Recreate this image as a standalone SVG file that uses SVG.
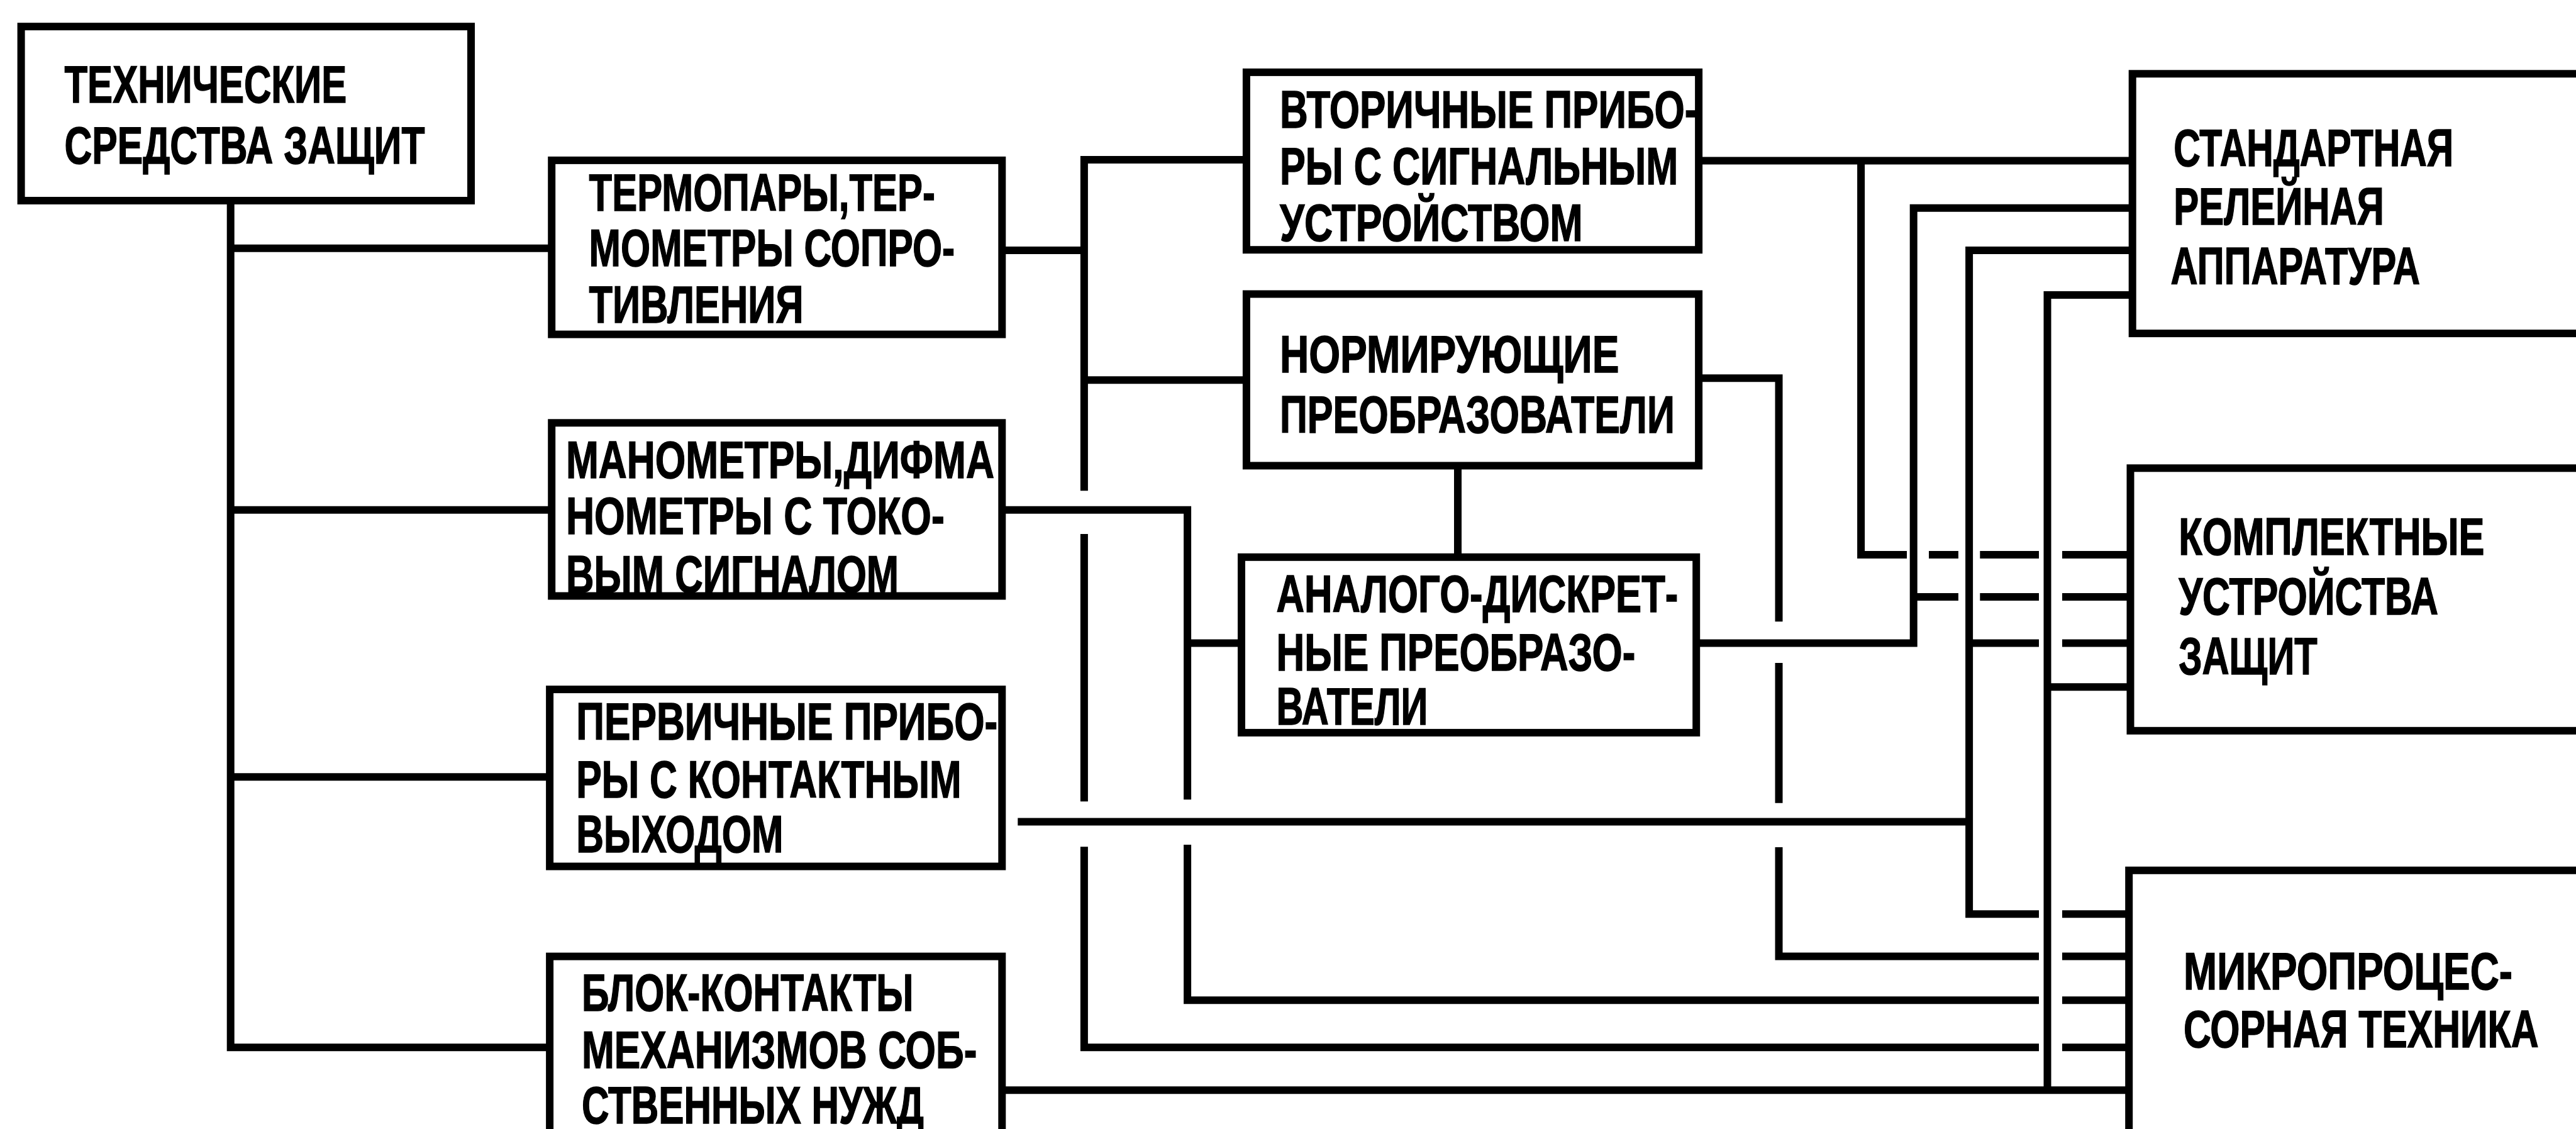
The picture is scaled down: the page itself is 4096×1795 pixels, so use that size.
<svg xmlns="http://www.w3.org/2000/svg" width="4096" height="1795" viewBox="0 0 4096 1795">
<style>
.box{fill:#fff;stroke:#000;stroke-width:12}
.c{fill:none;stroke:#000;stroke-width:12;stroke-linecap:butt;stroke-linejoin:miter}
.t{font-family:"Liberation Sans Narrow","Liberation Sans",Arial,sans-serif;font-size:83px;font-weight:bold;fill:#000;stroke:#000;stroke-width:1.5}
</style>
<rect width="4096" height="1795" fill="#fff"/>
<g id="connectors">
<path class="c" d="M366.7,319 V1665.2 H874.1"/>
<path class="c" d="M366.7,394.8 H877.2"/>
<path class="c" d="M366.7,810.7 H877.2"/>
<path class="c" d="M366.7,1235.2 H874.1"/>
<path class="c" d="M1593.3,397.9 H1723.9"/>
<path class="c" d="M1981.9,254.1 H1723.9 V780.2 M1723.9,849 V1274.3 M1723.9,1346.3 V1665.2 H3242 M3279,1665.2 H3385.2"/>
<path class="c" d="M1723.9,604.3 H1981.9"/>
<path class="c" d="M1593.3,810.7 H1888.1 V1271.2 M1888.1,1343.1 V1590.2 H3242 M3279,1590.2 H3385.2"/>
<path class="c" d="M1888.1,1022.6 H1974"/>
<path class="c" d="M1618.3,1306.4 H3131.1"/>
<path class="c" d="M2701.1,601.2 H2828.5 V988.2 M2828.5,1053.9 V1276.7 M2828.5,1347.1 V1520.6 H3242 M3279,1520.6 H3385.2"/>
<path class="c" d="M2318,740.4 V885.8"/>
<path class="c" d="M2697.2,1022.6 H3042.7 V330.7 H3390.7"/>
<path class="c" d="M3042.7,949.1 H3113.9 M3148.3,949.1 H3242 M3279,949.1 H3387.5"/>
<path class="c" d="M2701.1,255.6 H3390.7"/>
<path class="c" d="M2959.1,255.6 V881.9 H3032 M3067,881.9 H3113.9 M3148.3,881.9 H3242 M3279,881.9 H3387.5"/>
<path class="c" d="M3390.7,397.9 H3131.1 V1453.3 H3242 M3279,1453.3 H3385.2"/>
<path class="c" d="M3131.1,1022.6 H3242 M3279,1022.6 H3387.5"/>
<path class="c" d="M3390.7,469.1 H3255.5 V1733.3"/>
<path class="c" d="M3255.5,1092.2 H3387.5"/>
<path class="c" d="M1593.3,1733.3 H3385.2"/>
</g>
<g id="n1">
<rect class="box" x="33.6" y="42.2" width="715.4" height="276.8"/>
<text class="t" x="102.4" y="162.6" textLength="448.8" lengthAdjust="spacingAndGlyphs">ТЕХНИЧЕСКИЕ</text>
<text class="t" x="102.4" y="260.3" textLength="573.1" lengthAdjust="spacingAndGlyphs">СРЕДСТВА ЗАЩИТ</text>
</g>
<g id="n2">
<rect class="box" x="877.2" y="254.9" width="716.1" height="276.7"/>
<text class="t" x="936.6" y="334.6" textLength="550.4" lengthAdjust="spacingAndGlyphs">ТЕРМОПАРЫ,ТЕР-</text>
<text class="t" x="936.6" y="423" textLength="581.7" lengthAdjust="spacingAndGlyphs">МОМЕТРЫ СОПРО-</text>
<text class="t" x="936.6" y="513" textLength="340.9" lengthAdjust="spacingAndGlyphs">ТИВЛЕНИЯ</text>
</g>
<g id="n3">
<rect class="box" x="877.2" y="672.3" width="716.1" height="275.2"/>
<text class="t" x="899.9" y="759.9" textLength="681" lengthAdjust="spacingAndGlyphs">МАНОМЕТРЫ,ДИФМА</text>
<text class="t" x="899.9" y="849" textLength="602" lengthAdjust="spacingAndGlyphs">НОМЕТРЫ С ТОКО-</text>
<text class="t" x="899.9" y="942.1" textLength="529.3" lengthAdjust="spacingAndGlyphs">ВЫМ СИГНАЛОМ</text>
</g>
<g id="n4">
<rect class="box" x="874.1" y="1096.1" width="719.2" height="281.4"/>
<text class="t" x="916.3" y="1175.8" textLength="670" lengthAdjust="spacingAndGlyphs">ПЕРВИЧНЫЕ ПРИБО-</text>
<text class="t" x="916.3" y="1268.1" textLength="612.2" lengthAdjust="spacingAndGlyphs">РЫ С КОНТАКТНЫМ</text>
<text class="t" x="916.3" y="1354.9" textLength="329.1" lengthAdjust="spacingAndGlyphs">ВЫХОДОМ</text>
</g>
<g id="n5">
<rect class="box" x="874.1" y="1520.6" width="719.2" height="320"/>
<text class="t" x="924.9" y="1607.4" textLength="527.7" lengthAdjust="spacingAndGlyphs">БЛОК-КОНТАКТЫ</text>
<text class="t" x="924.9" y="1698.1" textLength="628.6" lengthAdjust="spacingAndGlyphs">МЕХАНИЗМОВ СОБ-</text>
<text class="t" x="924.9" y="1786.4" textLength="544.1" lengthAdjust="spacingAndGlyphs">СТВЕННЫХ НУЖД</text>
</g>
<g id="n6">
<rect class="box" x="1981.9" y="114.9" width="719.2" height="282.3"/>
<text class="t" x="2035" y="203.3" textLength="664.5" lengthAdjust="spacingAndGlyphs">ВТОРИЧНЫЕ ПРИБО-</text>
<text class="t" x="2035" y="293.2" textLength="633.3" lengthAdjust="spacingAndGlyphs">РЫ С СИГНАЛЬНЫМ</text>
<text class="t" x="2035" y="383.1" textLength="481.6" lengthAdjust="spacingAndGlyphs">УСТРОЙСТВОМ</text>
</g>
<g id="n7">
<rect class="box" x="1981.9" y="467.5" width="719.2" height="272.9"/>
<text class="t" x="2035" y="591.8" textLength="539.4" lengthAdjust="spacingAndGlyphs">НОРМИРУЮЩИЕ</text>
<text class="t" x="2035" y="688" textLength="627.8" lengthAdjust="spacingAndGlyphs">ПРЕОБРАЗОВАТЕЛИ</text>
</g>
<g id="n8">
<rect class="box" x="1974" y="885.8" width="723.2" height="279.1"/>
<text class="t" x="2029.6" y="973.3" textLength="638.7" lengthAdjust="spacingAndGlyphs">АНАЛОГО-ДИСКРЕТ-</text>
<text class="t" x="2029.6" y="1065.6" textLength="570.7" lengthAdjust="spacingAndGlyphs">НЫЕ ПРЕОБРАЗО-</text>
<text class="t" x="2029.6" y="1152.4" textLength="240.8" lengthAdjust="spacingAndGlyphs">ВАТЕЛИ</text>
</g>
<g id="n9">
<rect class="box" x="3390.7" y="117.3" width="740" height="412.8"/>
<text class="t" x="3456.3" y="263.5" textLength="444.8" lengthAdjust="spacingAndGlyphs">СТАНДАРТНАЯ</text>
<text class="t" x="3456.3" y="357.3" textLength="334.6" lengthAdjust="spacingAndGlyphs">РЕЛЕЙНАЯ</text>
<text class="t" x="3451.6" y="451.9" textLength="396.4" lengthAdjust="spacingAndGlyphs">АППАРАТУРА</text>
</g>
<g id="n10">
<rect class="box" x="3387.5" y="744.3" width="743" height="417.5"/>
<text class="t" x="3464.2" y="881.9" textLength="486.3" lengthAdjust="spacingAndGlyphs">КОМПЛЕКТНЫЕ</text>
<text class="t" x="3464.2" y="976.5" textLength="412.8" lengthAdjust="spacingAndGlyphs">УСТРОЙСТВА</text>
<text class="t" x="3464.2" y="1071.8" textLength="220.5" lengthAdjust="spacingAndGlyphs">ЗАЩИТ</text>
</g>
<g id="n11">
<rect class="box" x="3385.2" y="1383.8" width="745" height="450"/>
<text class="t" x="3472" y="1573" textLength="523" lengthAdjust="spacingAndGlyphs">МИКРОПРОЦЕС-</text>
<text class="t" x="3472" y="1665.2" textLength="564.5" lengthAdjust="spacingAndGlyphs">СОРНАЯ ТЕХНИКА</text>
</g>
</svg>
